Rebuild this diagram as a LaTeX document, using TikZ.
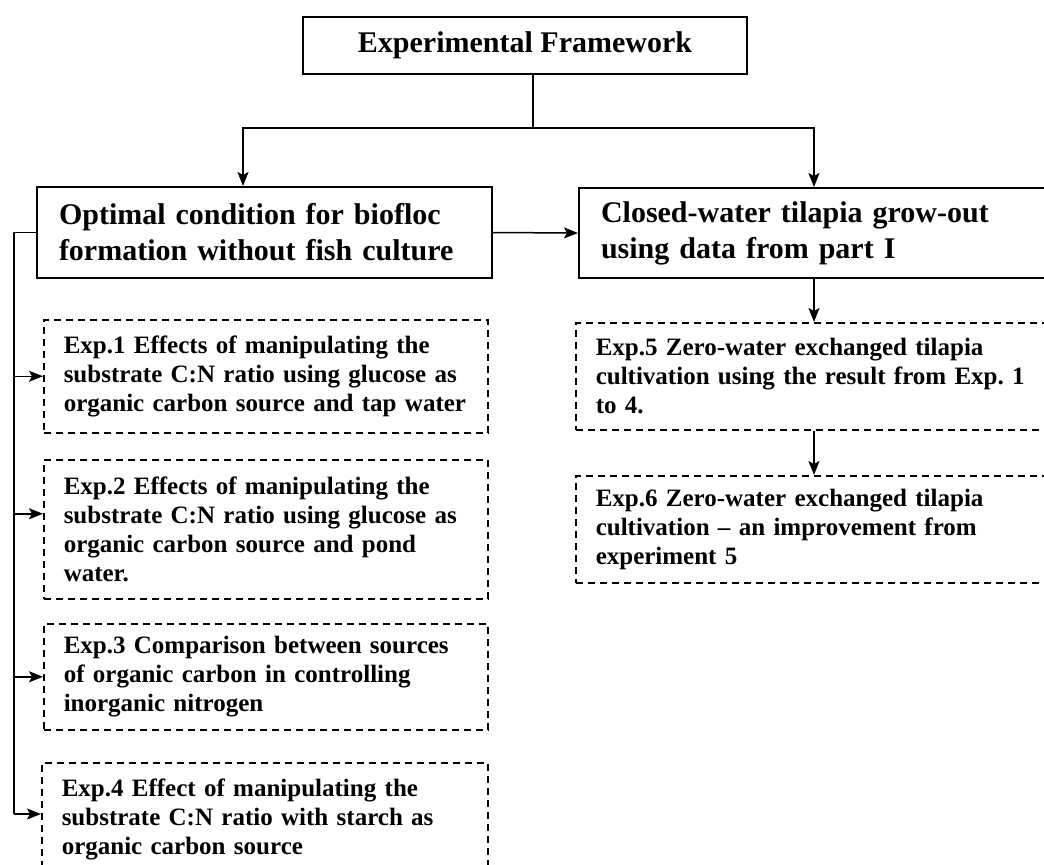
\documentclass[tikz,border=0pt]{standalone}
\usepackage{fontspec}
\setmainfont{Liberation Serif}
\usetikzlibrary{arrows.meta,positioning,calc}

\begin{document}
\begin{tikzpicture}[x=0.5pt, y=-0.5pt,
        mainbox/.style={draw, line width=1pt, anchor=north west, inner xsep=11pt, inner ysep=0pt, align=left, font=\fontsize{15}{17.5}\selectfont\bfseries\frenchspacing},
        expbox/.style={draw, dash pattern=on 3.5pt off 2.5pt, line width=0.75pt, anchor=north west, inner xsep=10pt, inner ysep=0pt, align=left, font=\fontsize{12.5}{14.5}\selectfont\bfseries\frenchspacing},
        conn/.style={line width=0.75pt},
        arr/.style={conn, -{Stealth[length=7pt,width=5.5pt,inset=1.5pt]}}]
        \clip (0,0) rectangle (1044,864);
        \fill[white] (0,0) rectangle (1044,864);

        % Framework
        \node[mainbox, anchor=center, align=center, minimum width=222pt, minimum height=28.5pt] (frame) at (525,45.5) {Experimental Framework};

        % Part I and part II
        \node[mainbox, text width=205.5pt, minimum height=45.5pt, font=\fontsize{15}{18}\selectfont\bfseries] (partI) at (36,186) {Optimal condition for biofloc\\formation without fish culture};
        \node[mainbox, text width=224pt, minimum height=45pt, font=\fontsize{15}{18}\selectfont\bfseries] (partII) at (578,187) {Closed-water tilapia grow-out\\using data from part I};

        % Experiments, part I
        \node[expbox, text width=202pt, minimum height=56.5pt] (exp1) at (43,319) {Exp.1 Effects of manipulating the\\substrate C:N ratio using glucose as\\organic carbon source and tap water};
        \node[expbox, text width=202pt, minimum height=69.5pt] (exp2) at (43,459) {Exp.2 Effects of manipulating the\\substrate C:N ratio using glucose as\\organic carbon source and pond\\water.};
        \node[expbox, text width=202pt, minimum height=53pt] (exp3) at (43,623) {Exp.3 Comparison between sources\\of organic carbon in controlling\\inorganic nitrogen};
        \node[expbox, text width=203pt, minimum height=57pt] (exp4) at (41,762) {Exp.4 Effect of manipulating the\\substrate C:N ratio with starch as\\organic carbon source};

        % Experiments, part II
        \node[expbox, text width=227.5pt, minimum height=53.5pt] (exp5) at (575,322) {Exp.5 Zero-water exchanged tilapia\\cultivation using the result from Exp. 1\\to 4.};
        \node[expbox, text width=227.5pt, minimum height=53.5pt] (exp6) at (575,475) {Exp.6 Zero-water exchanged tilapia\\cultivation -- an improvement from\\experiment 5};

        % Connections
        \coordinate (laxis) at (243,0);
        \coordinate (raxis) at (814,0);
        \coordinate (lbus) at (14,0);
        \draw[conn] ([xshift=4pt]frame.south) -- ([xshift=4pt]frame.south |- 0,128) coordinate (split);
        \draw[arr] (split) -| (laxis |- partI.north);
        \draw[arr] (split) -| (raxis |- partII.north);
        \draw[arr] (partI.east) -- (partII.west);
        \draw[arr] (raxis |- partII.south) -- (raxis |- exp5.north);
        \draw[arr] (raxis |- exp5.south) -- (raxis |- exp6.north);

        \coordinate (exp2in) at ([yshift=7.75pt]exp2.west);
        \coordinate (exp4in) at ([yshift=-26pt]exp4.north west);
        \draw[conn] (partI.west) -| (lbus |- exp4in);
        \draw[arr] (lbus |- exp1.west) -- (exp1.west);
        \draw[arr] (lbus |- exp2in) -- (exp2in);
        \draw[arr] (lbus |- exp3.west) -- (exp3.west);
        \draw[arr] (lbus |- exp4in) -- (exp4in);
    \end{tikzpicture}
\end{document}
